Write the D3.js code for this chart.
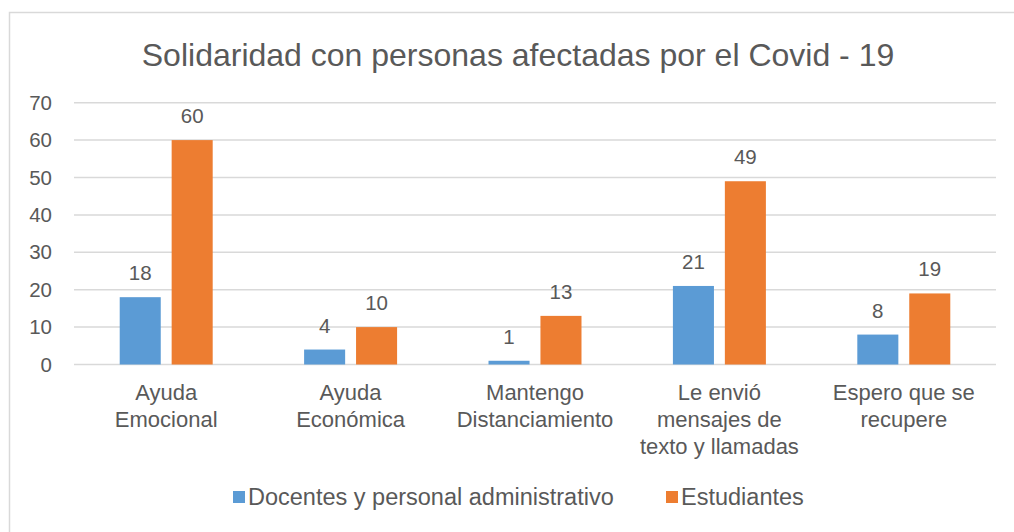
<!DOCTYPE html>
<html>
<head>
<meta charset="utf-8">
<script src="https://cdn.jsdelivr.net/npm/d3@7"></script>
<style>
  body { margin: 0; background: #fff; }
  text { font-family: Arial, "Liberation Sans", sans-serif; fill: #595959; }
</style>
</head>
<body>
<div id="chart"></div>
<script>
let svgWidth = 1014;
let svgHeight = 532;

let margin = { top: 102.7, right: 18, bottom: 167.5, left: 74 };
let width = svgWidth - margin.left - margin.right;
let height = svgHeight - margin.top - margin.bottom;

// chart data
let categories = [
  ["Ayuda", "Emocional"],
  ["Ayuda", "Económica"],
  ["Mantengo", "Distanciamiento"],
  ["Le envió", "mensajes de", "texto y llamadas"],
  ["Espero que se", "recupere"]
];
let seriesNames = ["Docentes y personal administrativo", "Estudiantes"];
let docentes = [18, 4, 1, 21, 8];
let estudiantes = [60, 10, 13, 49, 19];
let yTicks = [0, 10, 20, 30, 40, 50, 60, 70];
let colors = ["#5b9bd5", "#ed7d31"];

let rows = categories.map((c, i) => ({ key: i, label: c, values: [docentes[i], estudiantes[i]] }));

let svg = d3.select("#chart")
  .append("svg")
  .attr("width", svgWidth)
  .attr("height", svgHeight);

// outer chart border
svg.append("rect")
  .attr("x", 9.5)
  .attr("y", 12.5)
  .attr("width", 1100)
  .attr("height", 600)
  .attr("fill", "none")
  .attr("stroke", "#d9d9d9")
  .attr("stroke-width", 1.5);

svg.append("text")
  .attr("x", 518)
  .attr("y", 66)
  .attr("text-anchor", "middle")
  .style("font-size", "32px")
  .text("Solidaridad con personas afectadas por el Covid - 19");

let chartGroup = svg.append("g")
  .attr("transform", `translate(${margin.left}, ${margin.top})`);

let x0 = d3.scaleBand()
  .domain(rows.map(d => d.key))
  .range([0, width]);

let x1 = d3.scaleBand()
  .domain([0, 1])
  .range([0, x0.bandwidth()])
  .paddingInner(0.21)
  .paddingOuter(0.88);

let y = d3.scaleLinear()
  .domain([0, 70])
  .range([height, 0]);

// gridlines
chartGroup.append("g")
  .selectAll("line")
  .data(yTicks)
  .enter()
  .append("line")
  .attr("x1", 0)
  .attr("x2", width)
  .attr("y1", d => y(d))
  .attr("y2", d => y(d))
  .attr("stroke", "#d9d9d9")
  .attr("stroke-width", 1.5);

// y axis labels
let leftAxis = d3.axisLeft(y).tickValues(yTicks).tickSize(0).tickPadding(22);
let yAxis = chartGroup.append("g").call(leftAxis);
yAxis.select(".domain").remove();
yAxis.selectAll("text")
  .style("font-size", "20.5px")
  .attr("fill", "#595959");

// bars
let groups = chartGroup.selectAll(".cat")
  .data(rows)
  .enter()
  .append("g")
  .attr("class", "cat")
  .attr("transform", d => `translate(${x0(d.key)}, 0)`);

groups.selectAll("rect")
  .data(d => d.values.map((v, i) => ({ s: i, v: v })))
  .enter()
  .append("rect")
  .attr("x", d => x1(d.s))
  .attr("y", d => y(d.v))
  .attr("width", x1.bandwidth())
  .attr("height", d => height - y(d.v))
  .attr("fill", d => colors[d.s]);

groups.selectAll(".val")
  .data(d => d.values.map((v, i) => ({ s: i, v: v })))
  .enter()
  .append("text")
  .attr("class", "val")
  .attr("x", d => x1(d.s) + x1.bandwidth() / 2)
  .attr("y", d => y(d.v) - 17)
  .attr("text-anchor", "middle")
  .style("font-size", "20.5px")
  .text(d => d.v);

// category labels
let catText = chartGroup.selectAll(".catLabel")
  .data(rows)
  .enter()
  .append("text")
  .attr("class", "catLabel")
  .attr("x", d => x0(d.key) + x0.bandwidth() / 2)
  .attr("y", height + 36)
  .attr("text-anchor", "middle")
  .style("font-size", "22px");

catText.selectAll("tspan")
  .data(d => d.label)
  .enter()
  .append("tspan")
  .attr("x", function() { return d3.select(this.parentNode).attr("x"); })
  .attr("dy", (d, i) => i === 0 ? 0 : 27)
  .text(d => d);

// legend
let legendX = [233, 666];
let legend = svg.selectAll(".legend")
  .data(seriesNames)
  .enter()
  .append("g")
  .attr("class", "legend")
  .attr("transform", (d, i) => `translate(${legendX[i]}, 497)`);

legend.append("rect")
  .attr("x", 0)
  .attr("y", -6)
  .attr("width", 12)
  .attr("height", 12)
  .attr("fill", (d, i) => colors[i]);

legend.append("text")
  .attr("x", 15)
  .attr("y", 8)
  .style("font-size", "23.5px")
  .text(d => d);
</script>
</body>
</html>
